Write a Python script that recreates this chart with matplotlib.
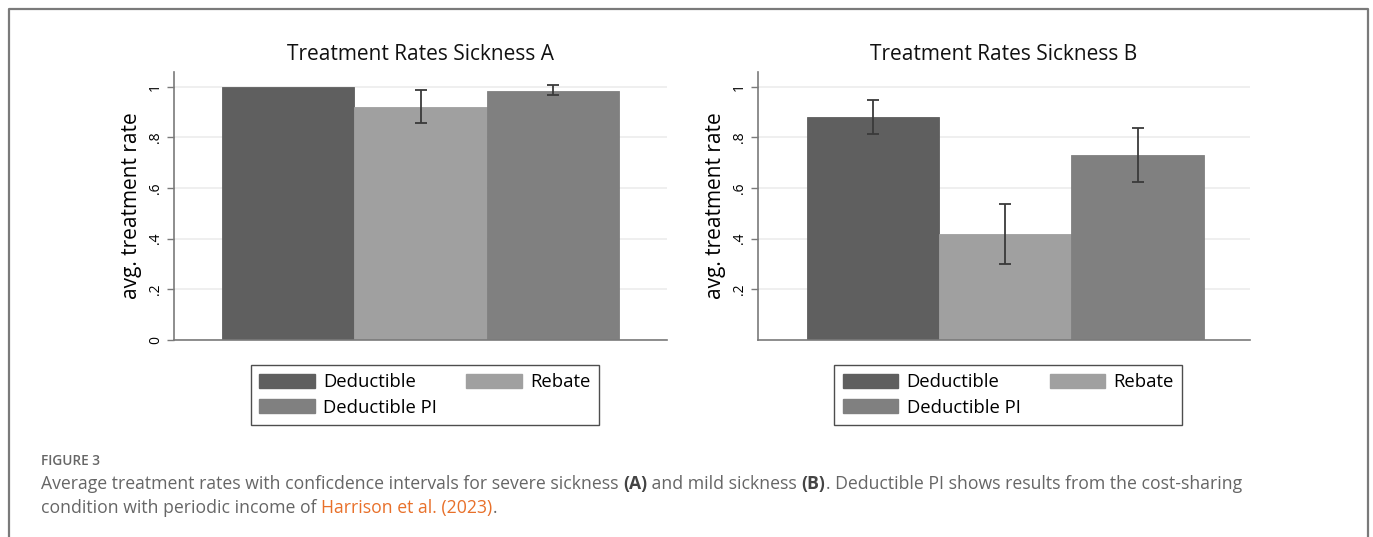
import matplotlib
matplotlib.use("Agg")
import matplotlib.pyplot as plt
from matplotlib.lines import Line2D
from matplotlib.patches import Patch

plt.rcParams["font.family"] = ["Open Sans", "DejaVu Sans"]

# ---- data ----
groups = ["Deductible", "Rebate", "Deductible PI"]
colors = ["#5f5f5f", "#a0a0a0", "#808080"]

rate_a = [1.0, 0.92, 0.983]
ci_low_a = [None, 0.858, 0.966]
ci_high_a = [None, 0.985, 1.005]

rate_b = [0.88, 0.42, 0.73]
ci_low_b = [0.815, 0.302, 0.625]
ci_high_b = [0.948, 0.537, 0.838]

titles = ["Treatment Rates Sickness A", "Treatment Rates Sickness B"]
ticks_a = [0, 0.2, 0.4, 0.6, 0.8, 1.0]
ticks_b = [0.2, 0.4, 0.6, 0.8, 1.0]
tick_labels_a = ["0", ".2", ".4", ".6", ".8", "1"]
tick_labels_b = [".2", ".4", ".6", ".8", "1"]

W, H = 1373, 537
fig = plt.figure(figsize=(W / 100, H / 100), dpi=100)


def px_axes(x0, y_top, x1, y_bot):
    return fig.add_axes([x0 / W, 1 - y_bot / H, (x1 - x0) / W, (y_bot - y_top) / H])


def draw_panel(ax, rates, lo, hi, title, ticks, ticklabels, xlim):
    xs = list(range(len(rates)))
    ax.bar(xs, rates, width=1.0, color=colors, edgecolor=colors, linewidth=0.6, zorder=2)
    for x, r, l, h in zip(xs, rates, lo, hi):
        if l is None:
            continue
        ax.errorbar([x], [r], yerr=[[r - l], [h - r]], fmt="none",
                    ecolor="#3a3a3a", elinewidth=1.3, capsize=4, capthick=1.3, zorder=3)
    ax.set_xlim(*xlim)
    ax.set_ylim(0, 1.058)
    ax.set_yticks(ticks)
    ax.set_yticklabels(ticklabels, rotation=90, va="center", fontsize=10)
    ax.set_xticks([])
    ax.grid(axis="y", color="#ececec", linewidth=1.2, zorder=0)
    for side in ("top", "right"):
        ax.spines[side].set_visible(False)
    for side in ("left", "bottom"):
        ax.spines[side].set_color("#7a7a7a")
        ax.spines[side].set_linewidth(1.2)
    ax.tick_params(axis="y", length=5, width=1.0, color="#7a7a7a", pad=3)
    ax.set_ylabel("avg. treatment rate", fontsize=15, labelpad=4)
    ax.set_title(title, fontsize=15, pad=9, color="#111111")

    handles = [Patch(facecolor=colors[0], edgecolor=colors[0]),
               Patch(facecolor=colors[2], edgecolor=colors[2]),
               Patch(facecolor=colors[1], edgecolor=colors[1])]
    labels = [groups[0], groups[2], groups[1]]
    leg = ax.legend(handles, labels, ncol=2, loc="upper center",
                    bbox_to_anchor=(0.509, -0.093), frameon=True, fancybox=False,
                    edgecolor="#222222", fontsize=13.3, handlelength=3.0,
                    handleheight=0.75, columnspacing=1.6, handletextpad=0.45,
                    labelspacing=0.4, borderpad=0.45, borderaxespad=0)
    leg.get_frame().set_linewidth(1.0)


ax_a = px_axes(174, 72, 667, 340)
draw_panel(ax_a, rate_a, ci_low_a, ci_high_a, titles[0], ticks_a, tick_labels_a, (-0.86, 2.86))

ax_b = px_axes(758, 72, 1250, 340)
draw_panel(ax_b, rate_b, ci_low_b, ci_high_b, titles[1], ticks_b, tick_labels_b, (-0.87, 2.85))

# outer frame (open at the bottom)
frame_c = "#7a7a7a"
fig.add_artist(Line2D([9 / W, 9 / W, 1368 / W, 1368 / W],
                      [0, 1 - 9 / H, 1 - 9 / H, 0],
                      transform=fig.transFigure, color=frame_c, linewidth=1.6))

# caption
gray = "#666666"
orange = "#e8702a"
fig.text(41 / W, 1 - 461 / H, "FIGURE 3", fontsize=9.8, color=gray,
         fontweight="semibold", va="center")

renderer = fig.canvas.get_renderer()


def rich_line(x_px, y_px, pieces, size=12.7):
    x = x_px / W
    for text, color, weight in pieces:
        t = fig.text(x, 1 - y_px / H, text, fontsize=size, color=color,
                     fontweight=weight, va="baseline")
        bb = t.get_window_extent(renderer=renderer)
        x = bb.x1 / W


rich_line(41, 489, [
    ("Average treatment rates with conficdence intervals for severe sickness ", gray, "normal"),
    ("(A)", "#444444", "bold"),
    (" and mild sickness ", gray, "normal"),
    ("(B)", "#444444", "bold"),
    (". Deductible PI shows results from the cost-sharing", gray, "normal"),
])
rich_line(41, 513, [
    ("condition with periodic income of ", gray, "normal"),
    ("Harrison et al. (2023)", orange, "normal"),
    (".", gray, "normal"),
])

fig.savefig("out.png", dpi=100)
